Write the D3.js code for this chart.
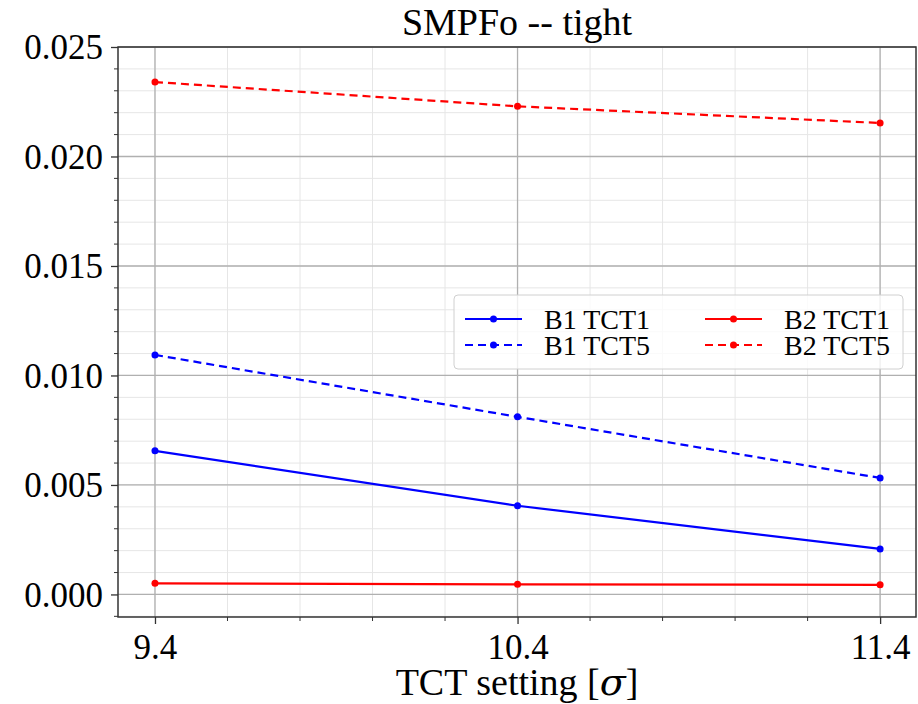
<!DOCTYPE html>
<html>
<head>
<meta charset="utf-8">
<script src="https://cdn.jsdelivr.net/npm/d3@7"></script>
<style>
  body { margin: 0; background: #fff; }
  svg text { font-family: "Liberation Serif", "DejaVu Serif", serif; fill: #000; }
</style>
</head>
<body>
<div id="chart"></div>
<script>
var xValues = [9.4, 10.4, 11.4];
var xTickLabels = ["9.4", "10.4", "11.4"];
var yTicks = [0.000, 0.005, 0.010, 0.015, 0.020, 0.025];

var seriesNames = ["B1 TCT1", "B1 TCT5", "B2 TCT1", "B2 TCT5"];
var seriesColors = ["#0000ff", "#0000ff", "#ff0000", "#ff0000"];
var seriesDashed = [false, true, false, true];
var b1tct1 = [0.00656, 0.00405, 0.00208];
var b1tct5 = [0.01094, 0.00811, 0.00532];
var b2tct1 = [0.00051, 0.00046, 0.00044];
var b2tct5 = [0.02340, 0.02229, 0.02153];
var seriesValues = [b1tct1, b1tct5, b2tct1, b2tct5];

var W = 918, H = 704;
var margin = { top: 47, right: 2, bottom: 87, left: 118 };
var width = W - margin.left - margin.right,
	height = H - margin.top - margin.bottom;

var svg = d3.select("#chart").append("svg")
	.attr("width", W)
	.attr("height", H);

var g = svg.append("g")
	.attr("transform", "translate(" + margin.left + "," + margin.top + ")");

var xScale = d3.scaleLinear().domain([9.298, 11.499]).range([0, width]);
var yScale = d3.scaleLinear().domain([-0.00103, 0.025]).range([height, 0]);

var xMinor = d3.range(9.4, 11.45, 0.2);
var yMinor = d3.range(-0.001, 0.0255, 0.001);

// minor grid
g.append("g").selectAll("line")
	.data(xMinor).enter().append("line")
	.attr("x1", function(d) { return xScale(d); })
	.attr("x2", function(d) { return xScale(d); })
	.attr("y1", 0).attr("y2", height)
	.style("stroke", "#e6e6e6").style("stroke-width", 1);
g.append("g").selectAll("line")
	.data(yMinor).enter().append("line")
	.attr("y1", function(d) { return yScale(d); })
	.attr("y2", function(d) { return yScale(d); })
	.attr("x1", 0).attr("x2", width)
	.style("stroke", "#e6e6e6").style("stroke-width", 1);

// major grid
g.append("g").selectAll("line")
	.data(xValues).enter().append("line")
	.attr("x1", function(d) { return xScale(d); })
	.attr("x2", function(d) { return xScale(d); })
	.attr("y1", 0).attr("y2", height)
	.style("stroke", "#b0b0b0").style("stroke-width", 1.3);
g.append("g").selectAll("line")
	.data(yTicks).enter().append("line")
	.attr("y1", function(d) { return yScale(d); })
	.attr("y2", function(d) { return yScale(d); })
	.attr("x1", 0).attr("x2", width)
	.style("stroke", "#b0b0b0").style("stroke-width", 1.3);

// axes
var xAxis = d3.axisBottom(xScale)
	.tickValues(xValues)
	.tickFormat(function(d, i) { return xTickLabels[i]; })
	.tickSizeInner(7).tickSizeOuter(0).tickPadding(10);
var yAxis = d3.axisLeft(yScale)
	.tickValues(yTicks)
	.tickFormat(d3.format(".3f"))
	.tickSizeInner(7).tickSizeOuter(0).tickPadding(8);

var gx = g.append("g")
	.attr("transform", "translate(0," + height + ")")
	.call(xAxis);
var gy = g.append("g").call(yAxis);

[gx, gy].forEach(function(a) {
	a.select(".domain").remove();
	a.selectAll(".tick line").style("stroke", "#333").style("stroke-width", 1.3);
	a.selectAll(".tick text").style("font-size", "35px")
		.style("font-family", "'Liberation Serif', serif").attr("fill", "#000");
});
gy.selectAll(".tick text").attr("dy", "0.34em");

// minor ticks
g.append("g").selectAll("line")
	.data(xMinor.filter(function(d) { return xValues.every(function(v) { return Math.abs(v - d) > 1e-6; }); }))
	.enter().append("line")
	.attr("x1", function(d) { return xScale(d); })
	.attr("x2", function(d) { return xScale(d); })
	.attr("y1", height).attr("y2", height + 4)
	.style("stroke", "#333").style("stroke-width", 1);
g.append("g").selectAll("line")
	.data(yMinor.filter(function(d) { return Math.round(d * 1000) % 5 !== 0; }))
	.enter().append("line")
	.attr("y1", function(d) { return yScale(d); })
	.attr("y2", function(d) { return yScale(d); })
	.attr("x1", 0).attr("x2", -4)
	.style("stroke", "#333").style("stroke-width", 1);

// frame
g.append("rect")
	.attr("width", width).attr("height", height)
	.style("fill", "none").style("stroke", "#333").style("stroke-width", 1.5);

// series
var line = d3.line()
	.x(function(d, i) { return xScale(xValues[i]); })
	.y(function(d) { return yScale(d); });

seriesValues.forEach(function(vals, k) {
	g.append("path")
		.datum(vals)
		.attr("d", line)
		.style("fill", "none")
		.style("stroke", seriesColors[k])
		.style("stroke-width", 2.2)
		.style("stroke-dasharray", seriesDashed[k] ? "8,5" : null);
	g.append("g").selectAll("circle")
		.data(vals).enter().append("circle")
		.attr("cx", function(d, i) { return xScale(xValues[i]); })
		.attr("cy", function(d) { return yScale(d); })
		.attr("r", 3.5)
		.style("fill", seriesColors[k]);
});

// legend
var legend = svg.append("g").attr("transform", "translate(454,295)");
legend.append("rect")
	.attr("width", 449).attr("height", 74).attr("rx", 4)
	.style("fill", "#fff").style("fill-opacity", 0.8)
	.style("stroke", "#d0d0d0").style("stroke-width", 1);

seriesNames.forEach(function(name, k) {
	var col = Math.floor(k / 2), row = k % 2;
	var item = legend.append("g")
		.attr("transform", "translate(" + (11 + col * 240) + "," + (24 + row * 26) + ")");
	item.append("line")
		.attr("x1", 0).attr("x2", 57)
		.style("stroke", seriesColors[k])
		.style("stroke-width", 2.2)
		.style("stroke-dasharray", seriesDashed[k] ? "8,5" : null);
	item.append("circle").attr("cx", 28.5).attr("r", 3.5).style("fill", seriesColors[k]);
	item.append("text")
		.attr("x", 79).attr("dy", "0.35em")
		.style("font-size", "28px")
		.text(name);
});

// title
svg.append("text")
	.attr("x", margin.left + width / 2)
	.attr("y", 35)
	.attr("text-anchor", "middle")
	.style("font-size", "38px")
	.text("SMPFo -- tight");

// x label
var xl = svg.append("text")
	.attr("x", margin.left + width / 2)
	.attr("y", 695)
	.attr("text-anchor", "middle")
	.style("font-size", "38px");
xl.append("tspan").text("TCT setting [");
xl.append("tspan").style("font-style", "italic").style("font-family", "'DejaVu Serif', serif").text("σ");
xl.append("tspan").text("]");
</script>
</body>
</html>
